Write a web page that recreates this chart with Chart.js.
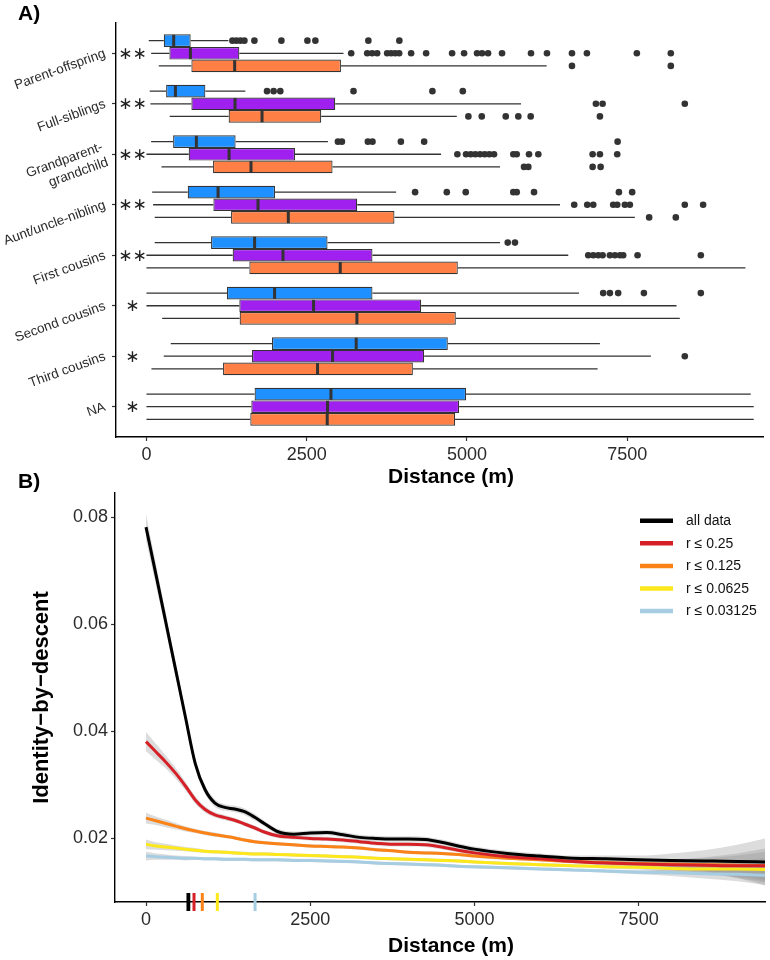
<!DOCTYPE html>
<html><head><meta charset="utf-8">
<script src="https://cdn.jsdelivr.net/npm/chart.js@4.4.1/dist/chart.umd.min.js"></script>
<style>
html,body{margin:0;padding:0;background:#fff;}
#wrap{position:relative;width:770px;height:960px;overflow:hidden;background:#fff;}
#cA{position:absolute;left:0;top:0;}
#cB{position:absolute;left:0;top:460px;}
</style></head><body>
<div id="wrap"><canvas id="cA" width="770" height="490"></canvas><canvas id="cB" width="770" height="500"></canvas></div>
<script>
// ---------------- Panel A data ----------------
const relationships = ['Parent-offspring','Full-siblings','Grandparent-\ngrandchild','Aunt/uncle-nibling','First cousins','Second cousins','Third cousins','NA'];
const sigMarks = ['\u2217\u2217','\u2217\u2217','\u2217\u2217','\u2217\u2217','\u2217\u2217','\u2217','\u2217','\u2217'];
const distTicks = [0, 2500, 5000, 7500];

const blueLow  = [36, 51, 73, 89, 129, 0, 379, 0];
const blueQ1   = [270, 307, 416, 644, 1008, 1257, 1959, 1687];
const blueMed  = [425, 452, 779, 1117, 1687, 1999, 3272, 2878];
const blueQ3   = [690, 919, 1391, 2005, 2825, 3526, 4701, 4986];
const blueHigh = [1278, 1543, 2831, 3895, 5516, 6747, 7074, 9427];
const blueOut  = [
  [1341,1403,1466,1528,1684,2105,2511,2635,3462,3945],
  [1881,1984,2088,3230,4461,4935],
  [2987,3049,3454,3526,3969,4332,7350],
  [4191,4685,4981,5723,5776,6046,7370,7577],
  [5636,5749],
  [7125,7230,7359,7760,8648],
  [],
  []
];

const purpleLow  = [73, 62, 0, 104, 0, 0, 270, 0];
const purpleQ1   = [358, 701, 659, 1044, 1345, 1449, 1647, 1636];
const purpleMed  = [686, 1382, 1289, 1740, 2130, 2607, 2903, 2825];
const purpleQ3   = [1449, 2945, 2317, 3288, 3526, 4285, 4332, 4877];
const purpleHigh = [3074, 5843, 4596, 6451, 6580, 8269, 7869, 9473];
const purpleOut  = [
  [3194,3444,3521,3599,3755,3817,3880,3942,4129,4363,4768,4955,5157,5235,5329,5547,5999,6248,6638,6871,7650,8180],
  [7011,7116,8398],
  [4850,4986,5059,5131,5204,5277,5349,5422,5723,5776,5968,6113,6960,7074,7344],
  [6673,6876,6970,7281,7344,7463,7541,8398,8684],
  [6892,6970,7048,7116,7230,7308,7386,7437,7661,8648],
  [],
  [8398],
  []
];

const orangeLow  = [192, 363, 234, 129, 0, 245, 78, 0];
const orangeQ1   = [701, 1282, 1039, 1320, 1605, 1454, 1195, 1620];
const orangeMed  = [1376, 1803, 1631, 2213, 3023, 3283, 2669, 2820];
const orangeQ3   = [3034, 2727, 2903, 3869, 4857, 4826, 4156, 4815];
const orangeHigh = [6243, 4841, 5516, 7619, 9344, 8320, 7038, 9473];
const orangeOut  = [
  [6638, 8180],
  [5022,5231,5605,5801,5994,7074],
  [5890,5957,6960,7085],
  [7842,8258],
  [],
  [],
  [],
  []
];

// ---------------- Panel B data ----------------
const distGrid = [0,150,300,450,600,750,900,1050,1200,1350,1500,1650,1800,2000,2250,2500,2750,3000,3250,3500,3750,4000,4250,4500,4750,5000,5500,6000,6500,7000,7500,8000,8500,9000,9424];
const idbAll    = [.0782,.0694,.0605,.0516,.0427,.0340,.0291,.0266,.0258,.0255,.0250,.0240,.0228,.0213,.0208,.0210,.0211,.0207,.0202,.0200,.0199,.0199,.0198,.0193,.0186,.0180,.0172,.0167,.0163,.0162,.0160,.0159,.0158,.0157,.0156];
const idbR25    = [.0381,.0362,.0343,.0322,.0298,.0272,.0254,.0244,.0239,.0234,.0227,.0220,.0212,.0205,.0202,.0200,.0199,.0197,.0194,.0191,.0189,.0189,.0188,.0184,.0178,.0173,.0166,.0162,.0157,.0154,.0152,.0151,.0150,.0149,.0149];
const idbR125   = [.0238,.0233,.0228,.0223,.0218,.0214,.0210,.0207,.0204,.0201,.0197,.0194,.0192,.0190,.0188,.0186,.0185,.0184,.0182,.0179,.0177,.0174,.0173,.0172,.0170,.0167,.0163,.0160,.0157,.0155,.0153,.0152,.0151,.0150,.0149];
const idbR0625  = [.0189,.0186,.0184,.0182,.0180,.0178,.0176,.0175,.0174,.0173,.0172,.0171,.0171,.0170,.0169,.0168,.0167,.0166,.0165,.0163,.0162,.0161,.0160,.0159,.0158,.0156,.0153,.0151,.0149,.0147,.0146,.0144,.0143,.0143,.0142];
const idbR03125 = [.0167,.0166,.0165,.0164,.0163,.0163,.0162,.0162,.0161,.0161,.0161,.0160,.0160,.0160,.0159,.0159,.0158,.0157,.0156,.0154,.0153,.0152,.0151,.0150,.0148,.0147,.0145,.0143,.0141,.0139,.0137,.0136,.0134,.0133,.0131];
// confidence band half-widths read from the grey ribbons
const seAll    = [.0024,.0020,.0016,.0013,.0011,.0009,.0008,.0007,.0006,.0006,.0006,.0006,.0005,.0005,.0005,.0005,.0005,.0005,.0005,.0005,.0005,.0005,.0005,.0005,.0005,.0005,.0005,.0005,.0005,.0006,.0008,.0013,.0020,.0031,.0044];
const seR25    = [.0018,.0015,.0012,.0010,.0008,.0007,.0006,.0005,.0005,.0004,.0004,.0004,.0004,.0004,.0004,.0004,.0004,.0004,.0004,.0004,.0004,.0004,.0004,.0004,.0004,.0004,.0004,.0004,.0004,.0005,.0007,.0010,.0015,.0023,.0032];
const seR125   = [.0010,.0008,.0007,.0006,.0005,.0004,.0004,.0004,.0003,.0003,.0003,.0003,.0003,.0003,.0003,.0003,.0003,.0003,.0003,.0003,.0003,.0003,.0003,.0003,.0003,.0003,.0003,.0003,.0003,.0004,.0005,.0008,.0012,.0018,.0026];
const seR0625  = [.0009,.0007,.0006,.0005,.0004,.0004,.0003,.0003,.0003,.0003,.0003,.0003,.0003,.0003,.0003,.0003,.0003,.0003,.0003,.0003,.0003,.0003,.0003,.0003,.0003,.0003,.0003,.0003,.0003,.0003,.0004,.0007,.0010,.0015,.0022];
const seR03125 = [.0008,.0006,.0005,.0004,.0004,.0003,.0003,.0003,.0003,.0003,.0003,.0003,.0003,.0003,.0003,.0003,.0003,.0003,.0003,.0003,.0003,.0003,.0003,.0003,.0003,.0003,.0003,.0003,.0003,.0003,.0004,.0006,.0009,.0013,.0018];
const rugX = [645, 731, 857, 1086, 1660];
const idbTicks = [0.02, 0.04, 0.06, 0.08];
const lineLabels = ['all data','r \u2264 0.25','r \u2264 0.125','r \u2264 0.0625','r \u2264 0.03125'];

// ---------------- common ----------------
const FONT = "'Liberation Sans', Arial, Helvetica, sans-serif";
const TXT = '#2b2b2b';
const axisGrid = {display:true, drawOnChartArea:false, drawTicks:true, tickLength:4, color:'#333', tickWidth:1.2, offset:false};
const axisBorder = {display:true, color:'#000', width:1.4};

// ---------------- Panel A ----------------
const boxSeries = [
  {label:'Group 1', color:'#1E90FF', lo:blueLow, q1:blueQ1, med:blueMed, q3:blueQ3, hi:blueHigh, out:blueOut},
  {label:'Group 2', color:'#A020F0', lo:purpleLow, q1:purpleQ1, med:purpleMed, q3:purpleQ3, hi:purpleHigh, out:purpleOut},
  {label:'Group 3', color:'#FF7F45', lo:orangeLow, q1:orangeQ1, med:orangeMed, q3:orangeQ3, hi:orangeHigh, out:orangeOut}
];

const boxExtras = {
  id:'boxExtras',
  beforeDatasetsDraw(chart){
    const ctx = chart.ctx, xs = chart.scales.x;
    ctx.save();
    ctx.strokeStyle = '#333'; ctx.lineWidth = 1.3;
    boxSeries.forEach((s, di) => {
      chart.getDatasetMeta(di).data.forEach((bar, j) => {
        const y = bar.y;
        ctx.beginPath();
        ctx.moveTo(xs.getPixelForValue(s.lo[j]), y); ctx.lineTo(xs.getPixelForValue(s.q1[j]), y);
        ctx.moveTo(xs.getPixelForValue(s.q3[j]), y); ctx.lineTo(xs.getPixelForValue(s.hi[j]), y);
        ctx.stroke();
      });
    });
    ctx.restore();
  },
  afterDatasetsDraw(chart){
    const ctx = chart.ctx, xs = chart.scales.x, ys = chart.scales.y;
    ctx.save();
    boxSeries.forEach((s, di) => {
      chart.getDatasetMeta(di).data.forEach((bar, j) => {
        const y = bar.y, h = bar.height;
        const mx = xs.getPixelForValue(s.med[j]);
        ctx.strokeStyle = '#333'; ctx.lineWidth = 3;
        ctx.beginPath(); ctx.moveTo(mx, y - h/2 + 0.5); ctx.lineTo(mx, y + h/2 - 0.5); ctx.stroke();
        ctx.fillStyle = '#333';
        s.out[j].forEach(v => {
          ctx.beginPath(); ctx.arc(xs.getPixelForValue(v), y, 3.3, 0, Math.PI*2); ctx.fill();
        });
      });
    });
    // significance marks
    ctx.fillStyle = '#222';
    ctx.font = "17px 'DejaVu Sans', sans-serif";
    ctx.textAlign = 'center'; ctx.textBaseline = 'middle';
    sigMarks.forEach((m, i) => {
      ctx.fillText(m, xs.getPixelForValue(-218), ys.getPixelForValue(i) + 1);
    });
    // panel label and axis title
    ctx.fillStyle = '#000';
    ctx.font = "bold 21px " + FONT;
    ctx.textAlign = 'left'; ctx.textBaseline = 'alphabetic';
    ctx.fillText('A)', 18, 20);
    ctx.textAlign = 'center'; ctx.textBaseline = 'middle';
    ctx.fillText('Distance (m)', 451, 477);
    ctx.restore();
  }
};

new Chart(document.getElementById('cA'), {
  type:'bar',
  data:{
    datasets: boxSeries.map(s => ({
      label: s.label,
      data: relationships.map((c, i) => ({x:[s.q1[i], s.q3[i]], y:i})),
      backgroundColor: s.color,
      borderColor: '#333',
      borderWidth: 1.2,
      borderSkipped: false,
      categoryPercentage: 0.75,
      barPercentage: 1.0
    }))
  },
  options:{
    indexAxis:'y', responsive:false, animation:false, devicePixelRatio:1,
    layout:{padding:{top:23, right:7, left:0, bottom:0}},
    plugins:{legend:{display:false}, tooltip:{enabled:false}},
    scales:{
      x:{type:'linear', min:-475, max:9618,
         afterBuildTicks: s => { s.ticks = distTicks.map(v => ({value:v})); },
         afterFit: s => { s.height = 53; },
         ticks:{callback: v => String(v), font:{family:FONT, size:18}, color:TXT, padding:3, maxRotation:0, autoSkip:false},
         grid: axisGrid, border: axisBorder},
      y:{type:'linear', reverse:true, min:-0.6, max:7.6, offset:false,
         afterBuildTicks: s => { s.ticks = relationships.map((c, i) => ({value:i})); },
         afterFit: s => { s.width = 116; },
         ticks:{callback: v => relationships[v].split('\n'), font:{family:FONT, size:13.5}, color:TXT, minRotation:20, maxRotation:20, padding:7, autoSkip:false},
         grid: axisGrid, border: axisBorder}
    }
  },
  plugins:[boxExtras]
});

// ---------------- Panel B ----------------
const lineSeries = [
  {label:lineLabels[0], color:'#000000', y:idbAll,    se:seAll},
  {label:lineLabels[1], color:'#D62027', y:idbR25,    se:seR25},
  {label:lineLabels[2], color:'#FA8216', y:idbR125,   se:seR125},
  {label:lineLabels[3], color:'#FDE81C', y:idbR0625,  se:seR0625},
  {label:lineLabels[4], color:'#A6CDE2', y:idbR03125, se:seR03125}
];
const bandColor = 'rgba(150,150,150,0.33)';
const dsB = [];
lineSeries.forEach((s, k) => {
  dsB.push({label:'band-hi', data: distGrid.map((d, i) => ({x:d, y:s.y[i] + s.se[i]})), borderWidth:0, pointRadius:0, fill:'+1', backgroundColor:bandColor, cubicInterpolationMode:'monotone', order:10});
  dsB.push({label:'band-lo', data: distGrid.map((d, i) => ({x:d, y:s.y[i] - s.se[i]})), borderWidth:0, pointRadius:0, fill:false, cubicInterpolationMode:'monotone', order:10});
});
lineSeries.forEach((s, k) => {
  dsB.push({label:s.label, isLine:true, data: distGrid.map((d, i) => ({x:d, y:s.y[i]})), borderColor:s.color, borderWidth:3, pointRadius:0, fill:false, cubicInterpolationMode:'monotone', order:k});
});

const idbExtras = {
  id:'idbExtras',
  afterDatasetsDraw(chart){
    const ctx = chart.ctx, xs = chart.scales.x, area = chart.chartArea;
    ctx.save();
    rugX.forEach((v, i) => {
      const px = xs.getPixelForValue(v);
      ctx.strokeStyle = lineSeries[i].color; ctx.lineWidth = i === 0 ? 3.8 : 3;
      ctx.beginPath(); ctx.moveTo(px, area.bottom - 9); ctx.lineTo(px, area.bottom + 9); ctx.stroke();
    });
    ctx.restore();
  },
  afterDraw(chart){
    const ctx = chart.ctx;
    ctx.save();
    const items = chart.data.datasets.filter(d => d.isLine);
    items.forEach((d, i) => {
      const y = 60.7 + i * 22.6;
      ctx.strokeStyle = d.borderColor; ctx.lineWidth = 4.5; ctx.lineCap = 'butt';
      ctx.beginPath(); ctx.moveTo(640, y); ctx.lineTo(673, y); ctx.stroke();
      ctx.fillStyle = '#111'; ctx.font = "14px " + FONT;
      ctx.textAlign = 'left'; ctx.textBaseline = 'middle';
      ctx.fillText(d.label, 686, y + 0.5);
    });
    ctx.fillStyle = '#000';
    ctx.font = "bold 21px " + FONT;
    ctx.textAlign = 'left'; ctx.textBaseline = 'alphabetic';
    ctx.fillText('B)', 18, 28);
    ctx.textAlign = 'center'; ctx.textBaseline = 'middle';
    ctx.fillText('Distance (m)', 451, 486);
    ctx.restore();
  }
};

new Chart(document.getElementById('cB'), {
  type:'line',
  data:{datasets: dsB},
  options:{
    responsive:false, animation:false, devicePixelRatio:1,
    layout:{padding:{top:33, right:5, left:0, bottom:0}},
    plugins:{legend:{display:false}, tooltip:{enabled:false}},
    scales:{
      x:{type:'linear', min:-472, max:9424,
         afterBuildTicks: s => { s.ticks = distTicks.map(v => ({value:v})); },
         afterFit: s => { s.height = 58; },
         ticks:{callback: v => String(v), font:{family:FONT, size:18}, color:TXT, padding:3, maxRotation:0, autoSkip:false},
         grid: axisGrid, border: axisBorder},
      y:{type:'linear', min:0.00812, max:0.08457,
         afterBuildTicks: s => { s.ticks = idbTicks.map(v => ({value:v})); },
         afterFit: s => { s.width = 115; },
         ticks:{callback: v => v.toFixed(2), font:{family:FONT, size:18}, color:TXT, padding:3, autoSkip:false},
         title:{display:true, text:'Identity\u2212by\u2212descent', font:{family:FONT, size:22, weight:'bold'}, color:'#000', padding:{top:29, bottom:0}},
         grid: axisGrid, border: axisBorder}
    }
  },
  plugins:[idbExtras]
});
</script>
</body></html>
